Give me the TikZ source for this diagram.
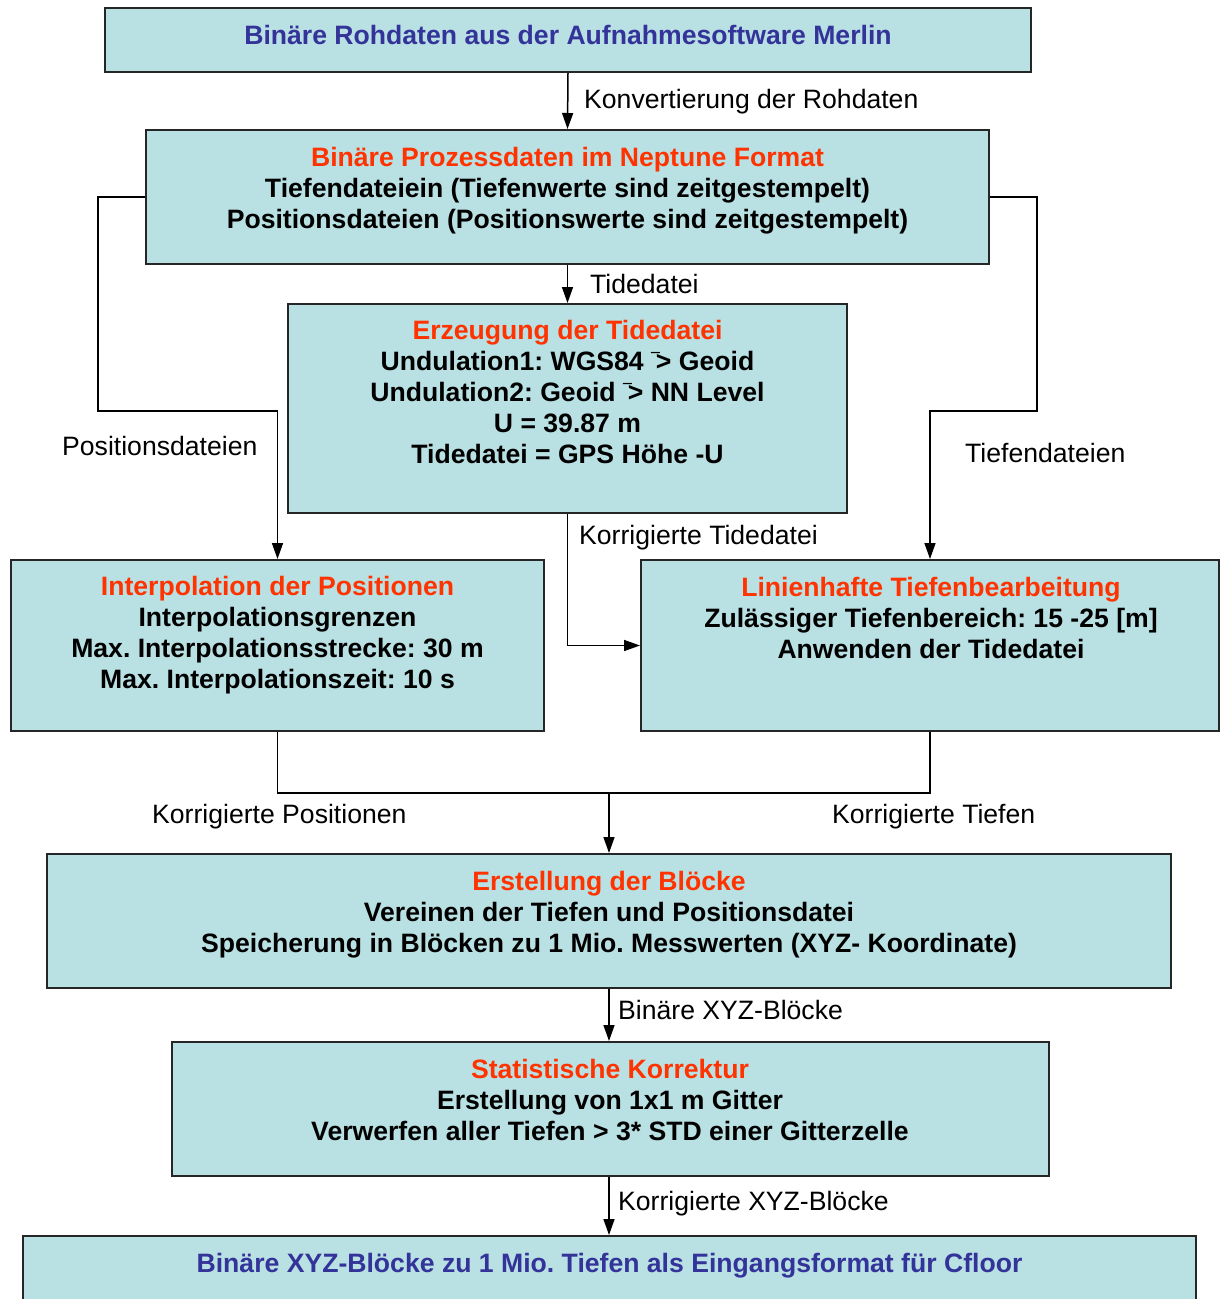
\documentclass[tikz,border=0pt]{standalone}
\usepackage{fontspec}
\setmainfont{Liberation Sans}
\usetikzlibrary{arrows.meta}
\definecolor{boxfill}{RGB}{185,224,227}
\definecolor{titleblue}{RGB}{51,51,153}
\definecolor{titlered}{RGB}{255,51,0}
\frenchspacing
\tikzset{
  procbox/.style={draw=black!85, line width=2pt, fill=boxfill, inner sep=0pt},
  boxtext/.style={font=\fontsize{26.6}{31}\selectfont\bfseries, align=center, anchor=base, inner sep=0pt},
  lbl/.style={font=\fontsize{26.6}{31}\selectfont, anchor=base west, inner sep=0pt},
  conn/.style={line width=1.5pt, draw=black},
  arr/.style={conn, -{Triangle[length=16pt,width=11pt]}}
}
\begin{document}
\begin{tikzpicture}[x=1pt,y=-1pt]
\useasboundingbox (0,0) rectangle (1220,1299);
\clip (0,0) rectangle (1220,1299);
% boxes
\node[procbox, minimum width=926pt, minimum height=64pt] (B1) at (568,40) {};
\node[procbox, minimum width=843pt, minimum height=134pt] (B2) at (567.5,197) {};
\node[procbox, minimum width=559pt, minimum height=209pt] (B3) at (567.5,408.5) {};
\node[procbox, minimum width=533pt, minimum height=171pt] (B4) at (277.5,645.5) {};
\node[procbox, minimum width=578pt, minimum height=171pt] (B5) at (930,645.5) {};
\node[procbox, minimum width=1124pt, minimum height=134pt] (B6) at (609,921) {};
\node[procbox, minimum width=877pt, minimum height=134pt] (B7) at (610.5,1109) {};
\node[procbox, minimum width=1173pt, minimum height=134pt] (B8) at (609.5,1303) {};
% texts (anchor base = baseline of the last line)
\node[boxtext, text=titleblue] (T1) at (568,44) {Binäre Rohdaten aus der Aufnahmesoftware Merlin};
\node[boxtext] (T2) at (567.5,228) {\textcolor{titlered}{Binäre Prozessdaten im Neptune Format}\\
Tiefendateiein (Tiefenwerte sind zeitgestempelt)\\
Positionsdateien (Positionswerte sind zeitgestempelt)};
\node[boxtext] (T3) at (567.5,463) {\textcolor{titlered}{Erzeugung der Tidedatei}\\
Undulation1: WGS84 \raisebox{-2pt}{\scalebox{0.6}[1]{¯}}\kern-4pt> Geoid\\
Undulation2: Geoid \raisebox{-2pt}{\scalebox{0.6}[1]{¯}}\kern-4pt> NN Level\\
U = 39.87 m\\
Tidedatei = GPS Höhe -U};
\node[boxtext] (T4) at (277.5,688) {\textcolor{titlered}{Interpolation der Positionen}\\
Interpolationsgrenzen\\
Max. Interpolationsstrecke: 30 m\\
Max. Interpolationszeit: 10 s};
\node[boxtext] (T5) at (931,658) {\textcolor{titlered}{Linienhafte Tiefenbearbeitung}\\
Zulässiger Tiefenbereich: 15 -25 [m]\\
Anwenden der Tidedatei};
\node[boxtext] (T6) at (609,952) {\textcolor{titlered}{Erstellung der Blöcke}\\
Vereinen der Tiefen und Positionsdatei\\
Speicherung in Blöcken zu 1 Mio. Messwerten (XYZ- Koordinate)};
\node[boxtext] (T7) at (610,1140) {\textcolor{titlered}{Statistische Korrektur}\\
Erstellung von 1x1 m Gitter\\
Verwerfen aller Tiefen > 3* STD einer Gitterzelle};
\node[boxtext, text=titleblue] (T8) at (609.5,1272) {Binäre XYZ-Blöcke zu 1 Mio. Tiefen als Eingangsformat für Cfloor};
% helper coordinates
\coordinate (pl) at (98,411);
\coordinate (pr) at (1037,411);
\coordinate (jn) at (609,793);
% connectors
\draw[arr] (B1.south) -- (B2.north);
\draw[arr] (B2.south) -- (B3.north);
\draw[arr] (B2.west) -| (pl) -| (B4.north);
\draw[arr] (B2.east) -| (pr) -| (B5.north);
\draw[arr] (B3.south) |- (B5.west);
\draw[conn] (B4.south) |- (jn) -| (B5.south);
\draw[arr] (jn) -- (B6.north);
\draw[arr] (B6.south) -- (B6.south |- B7.north);
\draw[arr] (B6.south |- B7.south) -- (B6.south |- B8.north);
% labels
\node[lbl] (L1) at (584,108) {Konvertierung der Rohdaten};
\node[lbl] (L2) at (590,293) {Tidedatei};
\node[lbl] (L3) at (62,455) {Positionsdateien};
\node[lbl] (L4) at (965,462) {Tiefendateien};
\node[lbl] (L5) at (579,544) {Korrigierte Tidedatei};
\node[lbl] (L6) at (152,823) {Korrigierte Positionen};
\node[lbl] (L7) at (832,823) {Korrigierte Tiefen};
\node[lbl] (L8) at (618,1019) {Binäre XYZ-Blöcke};
\node[lbl] (L9) at (618,1210) {Korrigierte XYZ-Blöcke};
\end{tikzpicture}
\end{document}
